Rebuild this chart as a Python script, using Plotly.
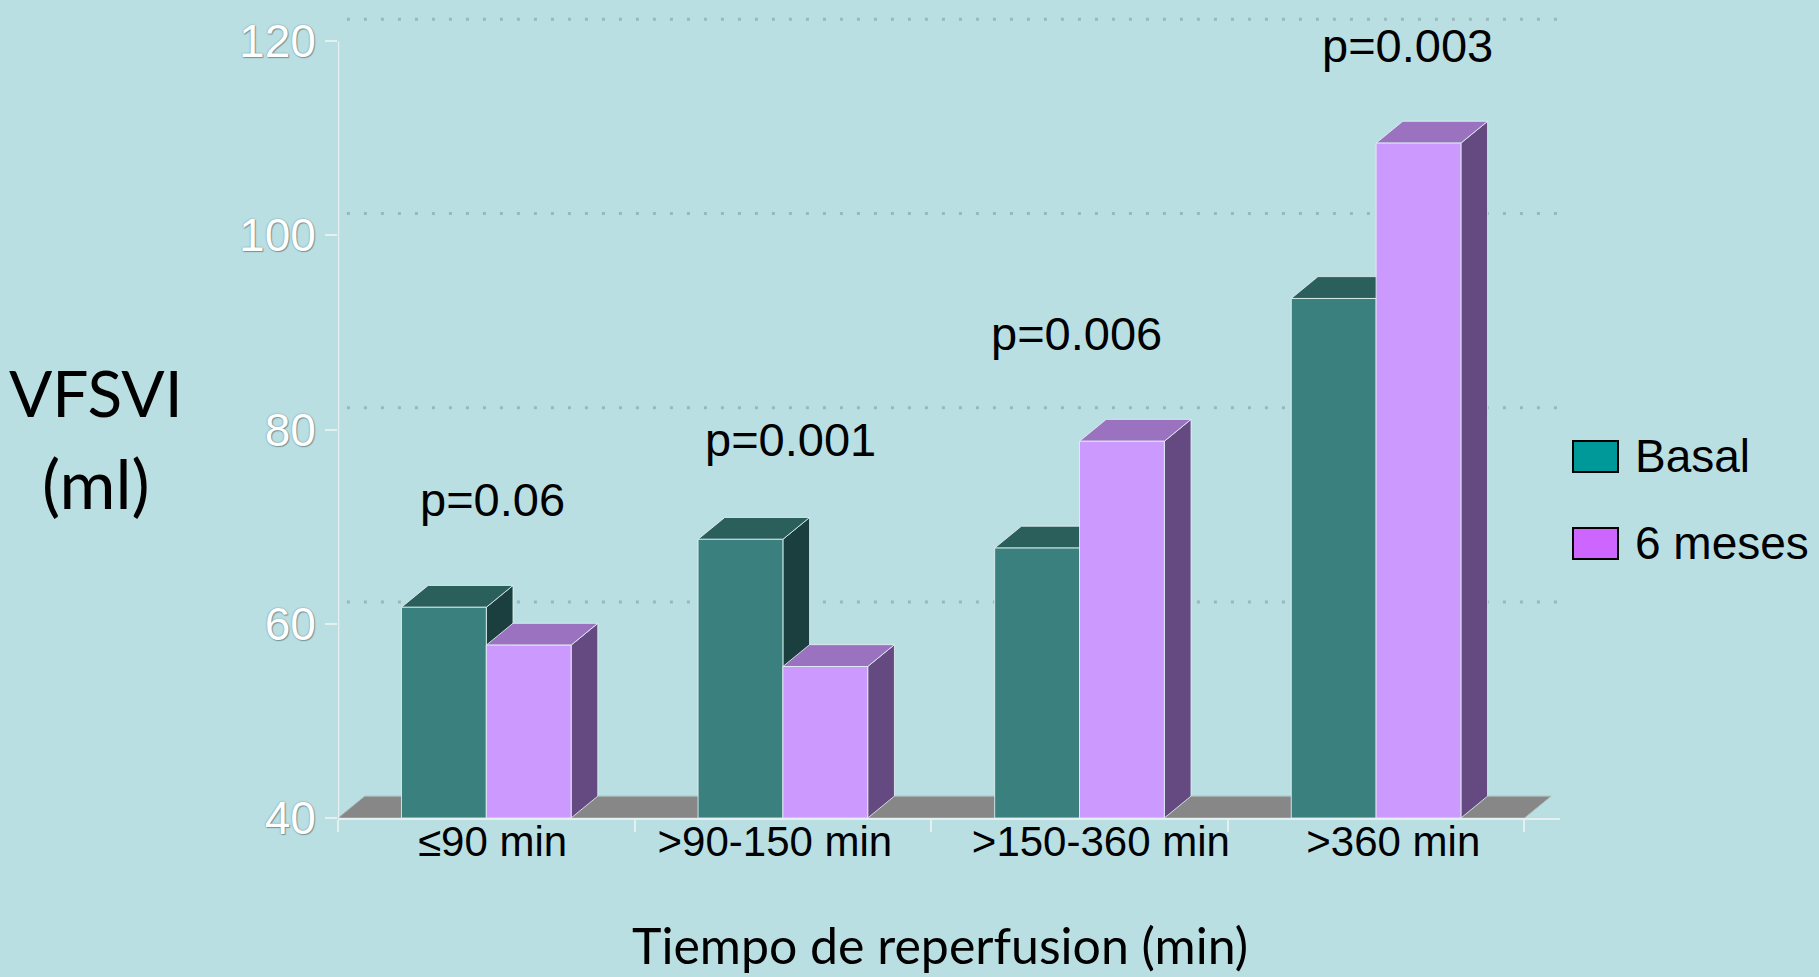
import plotly.graph_objects as go

# ---------------- data ----------------
categories = ["≤90 min", ">90-150 min", ">150-360 min", ">360 min"]
series_names = ["Basal", "6 meses"]
basal = [61.7, 68.7, 67.8, 93.5]
seis_meses = [57.8, 55.6, 78.8, 109.5]
p_labels = ["p=0.06", "p=0.001", "p=0.006", "p=0.003"]
y_ticks = [40, 60, 80, 100, 120]

# ---------------- style / positions ----------------
BG = "#badfe3"
Y0 = 40
DX, DY = 0.09, 2.25          # pseudo-3D depth (x in category units, y in value units)
BAR_W = 0.286
X_MIN, X_MAX = -0.5, 3.62
Y_MAX = 123
label_dx = [0.021, -0.027, 0.072, 0.058]      # category label nudges (category units)
p_dx = [0.02, 0.025, -0.01, 0.105]            # p-value label nudges (category units)
p_dy = [11.1, 10.3, 11.1, 10.0]               # p-value label height above tallest bar
faces = {
    "Basal":   dict(front="#3a807e", top="#2a5f5c", side="#1b3f3e", legend="#009999"),
    "6 meses": dict(front="#cc99ff", top="#9b72c0", side="#644a80", legend="#cc66ff"),
}
EDGE = dict(color="rgba(225,242,242,0.85)", width=1)

fig = go.Figure()

# back-wall dotted gridlines
for v in y_ticks[1:]:
    fig.add_trace(go.Scatter(x=[X_MIN + DX / 3, X_MAX], y=[v + DY, v + DY], mode="lines",
                             line=dict(color="#9ab7ba", width=3, dash="3px,14px"),
                             hoverinfo="skip", showlegend=False))

# floor
n = len(categories)
fx = [X_MIN, n - 0.5, n - 0.5 + DX, X_MIN + DX, X_MIN]
fy = [Y0, Y0, Y0 + DY, Y0 + DY, Y0]
fig.add_trace(go.Scatter(x=fx, y=fy, mode="lines", fill="toself", fillcolor="#878787",
                         line=dict(color="#a9b9ba", width=1), hoverinfo="skip", showlegend=False))

# y axis line (40..120)
fig.add_trace(go.Scatter(x=[X_MIN, X_MIN], y=[y_ticks[0], y_ticks[-1]], mode="lines",
                         line=dict(color="#e6f0f0", width=2.5), hoverinfo="skip", showlegend=False))


def poly(xs, ys, color, name):
    fig.add_trace(go.Scatter(x=xs + [xs[0]], y=ys + [ys[0]], mode="lines", fill="toself",
                             fillcolor=color, line=EDGE, name=name,
                             hoverinfo="skip", showlegend=False))


for i, cat in enumerate(categories):
    for k, (name, vals) in enumerate(zip(series_names, [basal, seis_meses])):
        v = vals[i]
        x0 = i - BAR_W + k * BAR_W
        x1 = x0 + BAR_W
        c = faces[name]
        # side
        poly([x1, x1 + DX, x1 + DX, x1], [Y0, Y0 + DY, v + DY, v], c["side"], name)
        # top
        poly([x0, x1, x1 + DX, x0 + DX], [v, v, v + DY, v + DY], c["top"], name)
        # front
        fig.add_trace(go.Scatter(x=[x0, x1, x1, x0, x0], y=[Y0, Y0, v, v, Y0], mode="lines",
                                 fill="toself", fillcolor=c["front"], line=EDGE, name=name,
                                 hovertemplate=f"{cat}<br>{name}: {v}<extra></extra>",
                                 showlegend=False))

# p-value annotations
annotations = []
for i, lab in enumerate(p_labels):
    top = max(basal[i], seis_meses[i])
    annotations.append(dict(x=i + p_dx[i], y=top + p_dy[i], xref="x", yref="y", text=lab,
                            showarrow=False, xanchor="center", yanchor="middle",
                            font=dict(family="Liberation Sans, Arial", size=47, color="black")))

# plot-area geometry in pixels (for paper-coordinate placement)
L, R, T, B = 338, 1560, 12, 818
W, H = R - L, B - T


def px(x):
    return (x - L) / W


def py(y):
    return (B - y) / H


# y-axis title (two lines)
annotations.append(dict(x=px(96), y=py(393), xref="paper", yref="paper", text="VFSVI",
                        showarrow=False, xanchor="center", yanchor="middle",
                        font=dict(family="Lato", size=64, color="black")))
annotations.append(dict(x=px(96), y=py(482), xref="paper", yref="paper", text="(ml)",
                        showarrow=False, xanchor="center", yanchor="middle",
                        font=dict(family="Lato", size=68, color="black")))
# x-axis title
annotations.append(dict(x=px(940), y=py(945), xref="paper", yref="paper",
                        text="Tiempo de reperfusion (min)", showarrow=False,
                        xanchor="center", yanchor="middle",
                        font=dict(family="Lato", size=50, color="black")))

# custom legend
shapes = []
legend_rows = [(456, 441, 472), (543, 528, 559)]
for name, (cy, y_top, y_bot) in zip(series_names, legend_rows):
    shapes.append(dict(type="rect", xref="paper", yref="paper",
                       x0=px(1573), x1=px(1618), y0=py(y_bot), y1=py(y_top),
                       fillcolor=faces[name]["legend"], line=dict(color="black", width=2)))
    annotations.append(dict(x=px(1633), y=py(cy), xref="paper", yref="paper", text=name,
                            showarrow=False, xanchor="left", yanchor="middle",
                            font=dict(family="Liberation Sans, Arial", size=46, color="black")))

fig.update_layout(
    width=1819, height=977,
    margin=dict(l=L, r=1819 - R, t=T, b=977 - B),
    paper_bgcolor=BG, plot_bgcolor=BG,
    showlegend=False,
    annotations=annotations,
    shapes=shapes,
    xaxis=dict(range=[X_MIN, X_MAX], tickmode="array",
               tickvals=[i + d for i, d in enumerate(label_dx)],
               ticktext=categories, ticks="", showgrid=False, zeroline=False,
               showline=True, linecolor="#e6f0f0", linewidth=2, ticklabelstandoff=-14,
               tickfont=dict(family="Liberation Sans, Arial", size=42, color="black"),
               minor=dict(tickmode="array", tickvals=[i - 0.5 for i in range(n + 1)],
                          ticks="outside", ticklen=12, tickcolor="#e6f0f0", tickwidth=1.5,
                          showgrid=False)),
    yaxis=dict(range=[Y0, Y_MAX], tickmode="array", tickvals=y_ticks,
               ticks="outside", ticklen=12, tickcolor="#e6f0f0", tickwidth=1.5,
               showgrid=False, zeroline=False, showline=False,
               tickfont=dict(family="Liberation Sans, Arial", size=46, color="white",
                             shadow="0px 0px 1.5px #5d7f83, 1px 1px 1px #7d9a9e")),
)

fig.write_html("out.html", config={"displayModeBar": False},
               post_script="document.body.style.margin='0px';")
